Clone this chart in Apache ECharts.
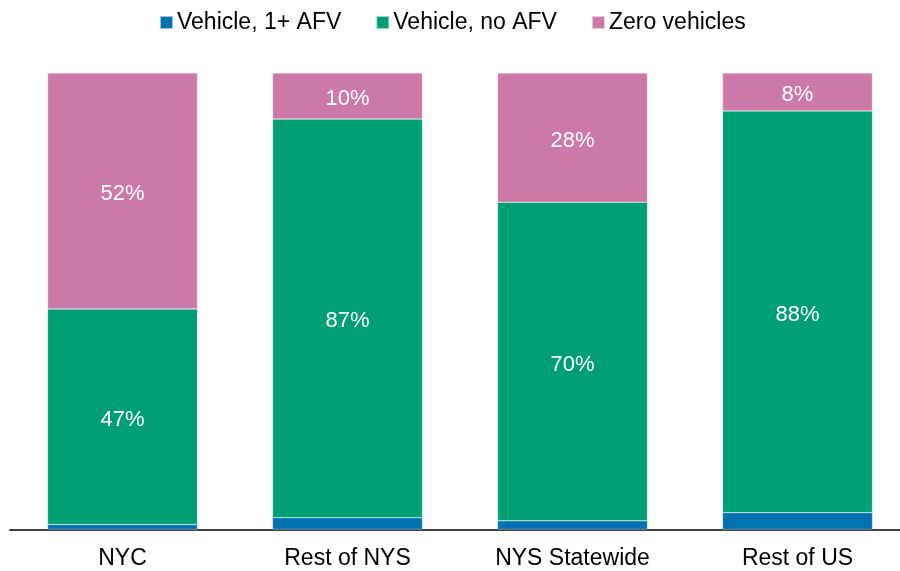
<!DOCTYPE html>
<html>
<head>
<meta charset="utf-8">
<script src="https://cdn.jsdelivr.net/npm/echarts@6/dist/echarts.min.js"></script>
<style>
  html, body { margin: 0; padding: 0; background: #fff; }
  #chart { width: 900px; height: 571px; }
</style>
</head>
<body>
<div id="chart"></div>
<script>
// data (share of households, %)
const categories = ['NYC', 'Rest of NYS', 'NYS Statewide', 'Rest of US']
const withAfv = [1.1, 2.6, 1.9, 3.7]
const noAfv = [47.2, 87.3, 69.8, 88.0]
const zeroVehicles = [51.7, 10.1, 28.3, 8.3]

const FONT = 'Liberation Sans, Arial, sans-serif'

function seg(name, data, color, showLabel) {
  return {
    name: name,
    type: 'bar',
    stack: 'total',
    data: data,
    barWidth: 150,
    itemStyle: { color: color, borderColor: 'rgba(255,255,255,0.6)', borderWidth: 0.5 },
    label: {
      show: showLabel,
      position: 'inside',
      offset: [0, 3],
      color: '#fff',
      fontFamily: FONT,
      fontSize: 22,
      formatter: p => Math.round(p.value) + '%'
    }
  }
}

const chart = echarts.init(document.getElementById('chart'))
chart.setOption({
  animation: false,
  legend: {
    top: 6,
    left: 154,
    itemWidth: 13,
    itemHeight: 13,
    itemGap: 34,
    icon: 'rect',
    textStyle: { fontFamily: FONT, fontSize: 23, color: '#000', padding: [0, 0, 0, -1] },
    data: ['Vehicle, 1+ AFV', 'Vehicle, no AFV', 'Zero vehicles']
  },
  grid: { left: 10, width: 900, top: 73, bottom: 41.5, outerBoundsMode: 'none' },
  xAxis: {
    type: 'category',
    data: categories,
    axisTick: { show: false },
    axisLine: { lineStyle: { color: '#404040', width: 2 } },
    axisLabel: { color: '#000', fontFamily: FONT, fontSize: 23, margin: 18 }
  },
  yAxis: { type: 'value', min: 0, max: 100, show: false, splitLine: { show: false } },
  series: [
    seg('Vehicle, 1+ AFV', withAfv, '#0072b2', false),
    seg('Vehicle, no AFV', noAfv, '#009e73', true),
    seg('Zero vehicles', zeroVehicles, '#cc79a7', true)
  ]
})
</script>
</body>
</html>
